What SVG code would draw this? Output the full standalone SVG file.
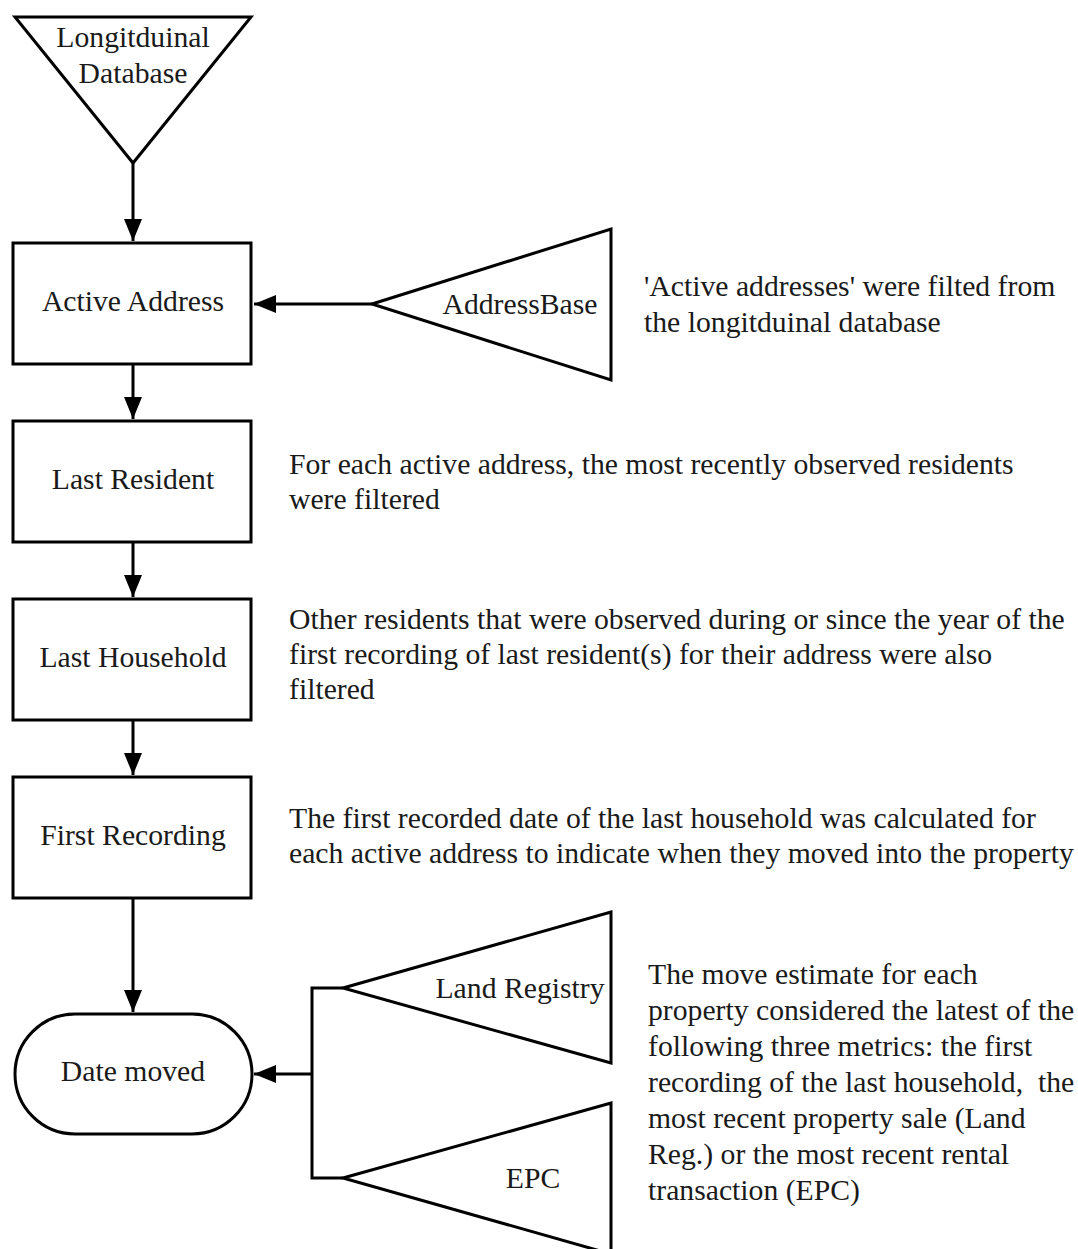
<svg xmlns="http://www.w3.org/2000/svg" width="1078" height="1249" viewBox="0 0 1078 1249">
<style>
.s{fill:#fff;stroke:#000;stroke-width:3}
.c{fill:none;stroke:#000;stroke-width:3}
text{font-family:"Liberation Serif","Times New Roman",serif;font-size:29.7px;fill:#1a1a1a}
.m{text-anchor:middle}
</style>
<defs>
<marker id="a" markerUnits="userSpaceOnUse" markerWidth="24" markerHeight="18" refX="22" refY="9" orient="auto">
<path d="M0,0 L22,9 L0,18 Z" fill="#000"/>
</marker>
</defs>
<rect width="1078" height="1249" fill="#fff"/>
<g id="connectors">
<line class="c" x1="133" y1="163" x2="133" y2="241" marker-end="url(#a)"/>
<line class="c" x1="372" y1="304" x2="254" y2="304" marker-end="url(#a)"/>
<line class="c" x1="133" y1="364" x2="133" y2="419" marker-end="url(#a)"/>
<line class="c" x1="133" y1="542" x2="133" y2="597" marker-end="url(#a)"/>
<line class="c" x1="133" y1="720" x2="133" y2="775" marker-end="url(#a)"/>
<line class="c" x1="133" y1="898" x2="133" y2="1012" marker-end="url(#a)"/>
<polyline class="c" points="343,988 312,988 312,1178 343,1178"/>
<line class="c" x1="312" y1="1074" x2="254" y2="1074" marker-end="url(#a)"/>
</g>
<g id="longitudinal">
<polygon class="s" points="15,17 251,17 133,163"/>
<text class="m" x="133" y="47">Longitduinal</text>
<text class="m" x="133" y="83">Database</text>
</g>
<g id="active-address">
<rect class="s" x="13" y="243" width="238" height="121"/>
<text class="m" x="133" y="311">Active Address</text>
</g>
<g id="addressbase">
<polygon class="s" points="372,304 611,229 611,380"/>
<text class="m" x="520" y="314">AddressBase</text>
</g>
<g id="last-resident">
<rect class="s" x="13" y="421" width="238" height="121"/>
<text class="m" x="133" y="489">Last Resident</text>
</g>
<g id="last-household">
<rect class="s" x="13" y="599" width="238" height="121"/>
<text class="m" x="133" y="667">Last Household</text>
</g>
<g id="first-recording">
<rect class="s" x="13" y="777" width="238" height="121"/>
<text class="m" x="133" y="845">First Recording</text>
</g>
<g id="date-moved">
<rect class="s" x="15" y="1014" width="237" height="120" rx="60" ry="60"/>
<text class="m" x="133" y="1081">Date moved</text>
</g>
<g id="land-registry">
<polygon class="s" points="343,988 611,912 611,1063"/>
<text class="m" x="520" y="998">Land Registry</text>
</g>
<g id="epc">
<polygon class="s" points="343,1178 611,1103 611,1254"/>
<text class="m" x="533" y="1188">EPC</text>
</g>
<g id="notes">
<text x="644" y="296">'Active addresses' were filted from</text>
<text x="644" y="332">the longitduinal database</text>
<text x="289" y="474">For each active address, the most recently observed residents</text>
<text x="289" y="509">were filtered</text>
<text x="289" y="629">Other residents that were observed during or since the year of the</text>
<text x="289" y="664">first recording of last resident(s) for their address were also</text>
<text x="289" y="699">filtered</text>
<text x="289" y="828">The first recorded date of the last household was calculated for</text>
<text x="289" y="863">each active address to indicate when they moved into the property</text>
<text x="648" y="984">The move estimate for each</text>
<text x="648" y="1020">property considered the latest of the</text>
<text x="648" y="1056">following three metrics: the first</text>
<text x="648" y="1092">recording of the last household,&#160; the</text>
<text x="648" y="1128">most recent property sale (Land</text>
<text x="648" y="1164">Reg.) or the most recent rental</text>
<text x="648" y="1200">transaction (EPC)</text>
</g>
</svg>
